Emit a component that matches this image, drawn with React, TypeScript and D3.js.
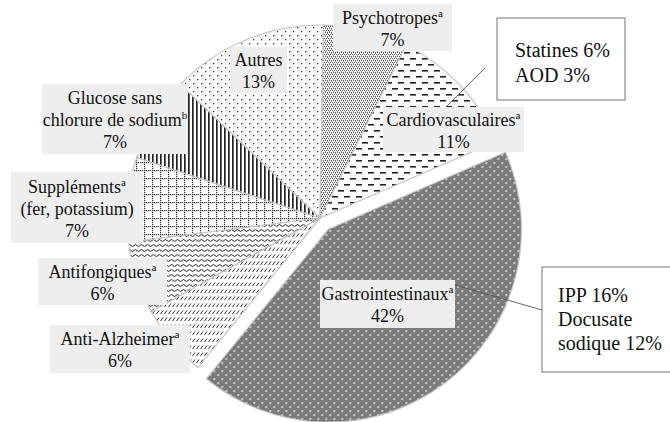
import React from "react";
import * as d3 from "d3";

// ---------- data ----------
const categories = [
  "Gastrointestinaux",
  "Anti-Alzheimer",
  "Antifongiques",
  "Suppléments",
  "Glucose sans chlorure de sodium",
  "Autres",
  "Psychotropes",
  "Cardiovasculaires",
];
const shares = [42, 6, 6, 7, 7, 13, 7, 11];
const labelLines = [
  ["Gastrointestinaux^a"],
  ["Anti-Alzheimer^a"],
  ["Antifongiques^a"],
  ["Suppléments^a", "(fer, potassium)"],
  ["Glucose sans", "chlorure de sodium^b"],
  ["Autres"],
  ["Psychotropes^a"],
  ["Cardiovasculaires^a"],
];
const cardioDetail = ["Statines 6%", "AOD 3%"];
const gastroDetail = ["IPP 16%", "Docusate", "sodique 12%"];

// ---------- layout (styles/positions) ----------
const W = 670;
const H = 422;
const CX = 320;
const CY = 218;
const R = 193;
const EXPLODE = 14;
const START_DEG = 66.5;
const FONT = "Liberation Serif";

const labelBoxes = [
  { x: 320, y: 280, w: 135, h: 48 },
  { x: 50, y: 325, w: 140, h: 48 },
  { x: 38, y: 258, w: 129, h: 47 },
  { x: 11, y: 172, w: 132, h: 71 },
  { x: 42, y: 84, w: 146, h: 70 },
  { x: 230, y: 47, w: 57, h: 46 },
  { x: 333, y: 4, w: 119, h: 47 },
  { x: 383, y: 107, w: 141, h: 45 },
];

const patternIds = ["pGastro", "pAlz", "pFong", "pSupp", "pGluc", "pAutres", "pPsy", "pCardio"];

function Patterns() {
  const checker: JSX.Element[] = [];
  for (let x = 0; x < 8; x++)
    for (let y = 0; y < 8; y++)
      if ((x + y) % 2 === 0)
        checker.push(<rect key={`${x}-${y}`} x={x} y={y} width={1} height={1} fill="#959595" />);
  const suppDots: JSX.Element[] = [];
  for (let i = 0; i < 8; i += 2) {
    suppDots.push(<rect key={`h${i}`} x={i} y={0} width={1.2} height={1.2} fill="#333" />);
    suppDots.push(<rect key={`v${i}`} x={0} y={i} width={1.2} height={1.2} fill="#333" />);
  }
  return (
    <defs>
      <pattern id="pGastro" width={8} height={8} patternUnits="userSpaceOnUse">
        <rect width={8} height={8} fill="#5f5f5f" />
        {checker}
        <rect x={1} y={1} width={1.6} height={1.6} fill="#fff" />
        <rect x={5} y={5} width={1.6} height={1.6} fill="#fff" />
      </pattern>
      <pattern id="pCardio" width={12} height={12} patternUnits="userSpaceOnUse">
        <rect width={12} height={12} fill="#fff" />
        <rect x={0} y={2} width={6} height={1.6} fill="#222" />
        <rect x={6} y={8} width={6} height={1.6} fill="#222" />
      </pattern>
      <pattern id="pPsy" width={4} height={4} patternUnits="userSpaceOnUse">
        <rect width={4} height={4} fill="#fff" />
        <rect x={0} y={0} width={1} height={1} fill="#555" />
        <rect x={2} y={0} width={1} height={1} fill="#555" />
        <rect x={1} y={2} width={1} height={1} fill="#555" />
        <rect x={3} y={2} width={1} height={1} fill="#555" />
        <rect x={1} y={1} width={1} height={1} fill="#999" />
        <rect x={3} y={3} width={1} height={1} fill="#999" />
      </pattern>
      <pattern id="pAutres" width={8} height={8} patternUnits="userSpaceOnUse">
        <rect width={8} height={8} fill="#fff" />
        <rect x={1} y={1} width={1.3} height={1.3} fill="#333" />
        <rect x={5} y={5} width={1.3} height={1.3} fill="#333" />
      </pattern>
      <pattern id="pGluc" width={4} height={4} patternUnits="userSpaceOnUse">
        <rect width={4} height={4} fill="#fff" />
        <rect x={0} y={0} width={1.7} height={4} fill="#222" />
      </pattern>
      <pattern id="pSupp" width={8} height={8} patternUnits="userSpaceOnUse">
        <rect width={8} height={8} fill="#fff" />
        {suppDots}
      </pattern>
      <pattern id="pFong" width={6} height={5} patternUnits="userSpaceOnUse">
        <rect width={6} height={5} fill="#fff" />
        <path d="M0 2.5 Q1.5 0.5 3 2.5 T6 2.5" fill="none" stroke="#222" strokeWidth={1} />
      </pattern>
      <pattern id="pAlz" width={4} height={7} patternUnits="userSpaceOnUse">
        <rect width={4} height={7} fill="#fff" />
        <line x1={0.5} y1={5} x2={3} y2={1.5} stroke="#333" strokeWidth={1} />
      </pattern>
    </defs>
  );
}

function Line({ s, x, y, size }: { s: string; x: number; y: number; size: number }) {
  const [main, sup] = s.split("^");
  return (
    <text x={x} y={y} textAnchor="middle" fontSize={size} fill="#111" fontFamily={FONT} style={{ fontFamily: FONT }}>
      {main}
      {sup && (
        <tspan fontSize={11} dy={-7} style={{ fontFamily: FONT }}>
          {sup}
        </tspan>
      )}
    </text>
  );
}

export default function App() {
  const start = (START_DEG * Math.PI) / 180;
  const pie = d3
    .pie<number>()
    .sort(null)
    .value((d) => d)
    .startAngle(start)
    .endAngle(start + 2 * Math.PI);
  const arcs = pie(shares);
  const arcGen = d3.arc<d3.PieArcDatum<number>>().innerRadius(0).outerRadius(R);

  const offsets = arcs.map((a, i) => {
    if (i !== 0) return [0, 0];
    const mid = (a.startAngle + a.endAngle) / 2;
    return [Math.sin(mid) * EXPLODE, -Math.cos(mid) * EXPLODE];
  });

  const order = arcs.map((_, i) => i).slice(1).concat([0]);

  return (
    <svg
      width={W}
      height={H}
      fontFamily={FONT}
      style={{ position: "absolute", left: 0, top: 0, background: "#fff", fontFamily: FONT }}
    >
      <Patterns />
      <rect width={W} height={H} fill="#fff" />
      {order.map((i) => (
        <path
          key={categories[i]}
          d={arcGen(arcs[i]) || ""}
          transform={`translate(${CX + offsets[i][0]},${CY + offsets[i][1]})`}
          fill={`url(#${patternIds[i]})`}
          stroke="#c4c4c4"
          strokeWidth={1.2}
        />
      ))}

      {/* leader lines */}
      <line x1={485} y1={68} x2={445} y2={108} stroke="#555" strokeWidth={0.9} />
      <line x1={455} y1={285} x2={542} y2={310} stroke="#555" strokeWidth={0.9} />

      {labelBoxes.map((b, i) => {
        const lines = [...labelLines[i], `${shares[i]}%`];
        const n = lines.length;
        const cx = b.x + b.w / 2;
        const cy = b.y + b.h / 2;
        return (
          <g key={`lab-${i}`}>
            <rect x={b.x} y={b.y} width={b.w} height={b.h} fill="#eeeeee" />
            {lines.map((s, j) => (
              <Line key={j} s={s} x={cx} y={cy + 7 + (j - (n - 1) / 2) * 22} size={18} />
            ))}
          </g>
        );
      })}

      {/* callout boxes */}
      <rect x={497} y={18} width={128} height={82} fill="#fff" stroke="#8a8a8a" strokeWidth={1.2} />
      {cardioDetail.map((s, j) => (
        <text key={s} x={515} y={57 + j * 25} fontSize={20} fill="#111" fontFamily={FONT} style={{ fontFamily: FONT }}>
          {s}
        </text>
      ))}
      <rect x={542} y={267} width={135} height={105} fill="#fff" stroke="#8a8a8a" strokeWidth={1.2} />
      {gastroDetail.map((s, j) => (
        <text key={s} x={558} y={302 + j * 24} fontSize={20} fill="#111" fontFamily={FONT} style={{ fontFamily: FONT }}>
          {s}
        </text>
      ))}
    </svg>
  );
}
